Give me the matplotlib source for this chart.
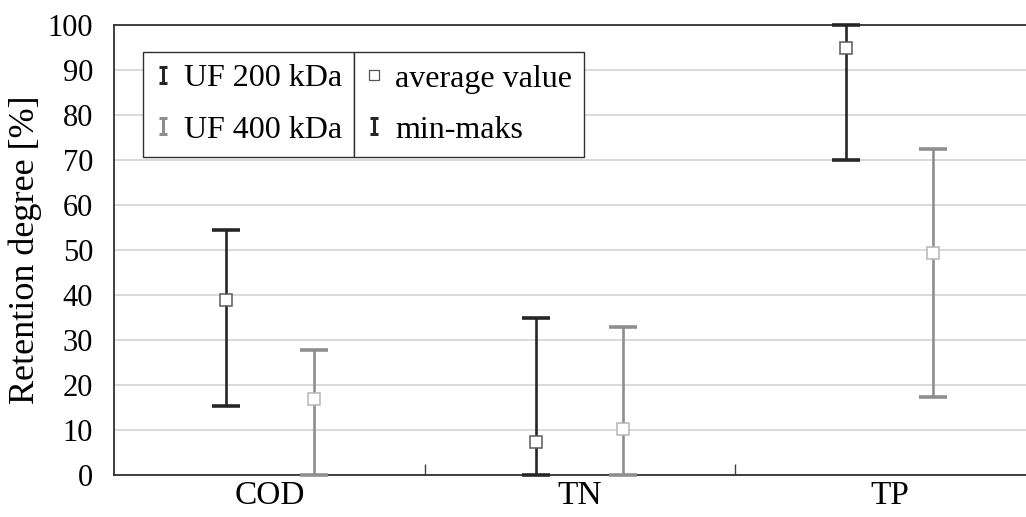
import numpy as np
import matplotlib.pyplot as plt
from matplotlib.lines import Line2D
from matplotlib.path import Path

# values
categories = ['COD', 'TN', 'TP']
series = ['UF 200 kDa', 'UF 400 kDa']
avg_200 = [39.0, 7.3, 95.0]
min_200 = [15.3, 0.0, 70.0]
max_200 = [54.5, 35.0, 100.0]
avg_400 = [17.0, 10.3, 49.3]
min_400 = [0.0, 0.0, 17.3]
max_400 = [27.8, 33.0, 72.5]

dark = '#262626'
grey = '#8e8e8e'

plt.rcParams['font.family'] = ['Liberation Serif', 'DejaVu Serif']
plt.rcParams['font.size'] = 21

W, H = 1026, 517
fig = plt.figure(figsize=(W / 100, H / 100), dpi=100)
ax = fig.add_axes([114 / W, 42 / H, (W - 114) / W, 450 / H])

x = np.arange(len(categories))
off = 0.141

for vals, lo, hi, col, edge, dx in [
        (avg_200, min_200, max_200, dark, '#5a5a5a', -off),
        (avg_400, min_400, max_400, grey, '#b5b5b5', off)]:
    vals = np.array(vals)
    yerr = [vals - np.array(lo), np.array(hi) - vals]
    ax.errorbar(x + dx, vals, yerr=yerr, fmt='none', ecolor=col,
                elinewidth=1.9, capsize=10, capthick=2.6, clip_on=False, zorder=3)
    ax.plot(x + dx, vals, ls='none', marker='s', ms=8.5, mfc='white',
            mec=edge, mew=1.1, zorder=4, clip_on=False)

ax.set_xlim(-0.503, 2.44)
ax.set_ylim(0, 100)
ax.set_yticks(np.arange(0, 101, 10))
ax.yaxis.grid(True, color='#d9d9d9', lw=1.4)
ax.set_axisbelow(True)
ax.tick_params(axis='y', length=0, pad=15, labelsize=22)
ax.set_xticks([0.5, 1.5])
ax.set_xticklabels([])
ax.set_xticks(x, minor=True)
ax.set_xticklabels(categories, minor=True, fontsize=24)
ax.tick_params(axis='x', which='major', direction='in', length=8, width=1, color='#404040')
ax.tick_params(axis='x', which='minor', length=0, pad=4)
ax.set_ylabel('Retention degree [%]', labelpad=4, fontsize=26)

ax.spines['right'].set_visible(False)
for s in ['left', 'bottom', 'top']:
    ax.spines[s].set_color('#303030')
    ax.spines[s].set_linewidth(1.3)

# I-shaped legend glyph
ibar = Path([(-0.5, -1), (0.5, -1), (0, -1), (0, 1), (-0.5, 1), (0.5, 1)],
            [Path.MOVETO, Path.LINETO, Path.MOVETO, Path.LINETO, Path.MOVETO, Path.LINETO])

h1 = [Line2D([], [], ls='none', marker=ibar, ms=11, mec=dark, mew=2.2),
      Line2D([], [], ls='none', marker=ibar, ms=11, mec=grey, mew=2.2)]
h2 = [Line2D([], [], ls='none', marker='s', ms=6.5, mfc='white', mec='#555555', mew=0.9),
      Line2D([], [], ls='none', marker=ibar, ms=11, mec=dark, mew=2.2)]

common = dict(loc='upper left', frameon=True, fancybox=False,
              edgecolor='#303030', framealpha=1, handlelength=0.5, handletextpad=0.4,
              labelspacing=0.68, borderpad=0.38, borderaxespad=0, fontsize=23)

leg1 = ax.legend(h1, series, bbox_to_anchor=(143 / W, 1 - 52 / H),
                 bbox_transform=fig.transFigure, **common)
leg1.get_frame().set_linewidth(1.0)
ax.add_artist(leg1)
fig.canvas.draw()
bb = leg1.get_window_extent()
leg2 = ax.legend(h2, ['average value', 'min-maks'], bbox_to_anchor=(bb.x1 / W, 1 - 52 / H),
                 bbox_transform=fig.transFigure, **common)
leg2.get_frame().set_linewidth(1.0)

fig.savefig('out.png', dpi=100)
